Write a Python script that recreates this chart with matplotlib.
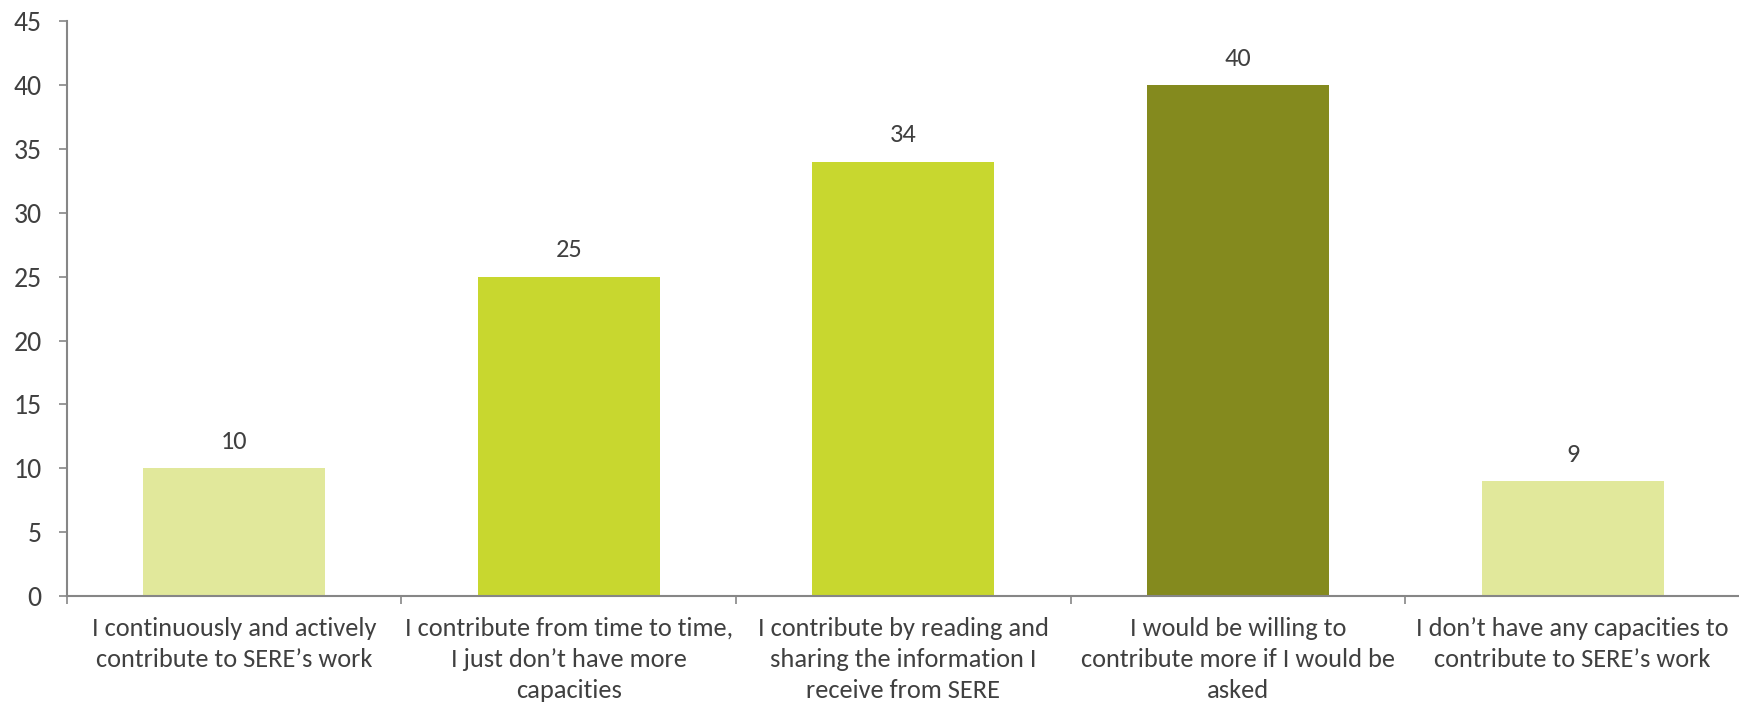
import matplotlib
matplotlib.use("Agg")
import matplotlib.pyplot as plt
from matplotlib.ticker import FixedLocator
from matplotlib import font_manager

categories = [
    "I continuously and actively\ncontribute to SERE\u2019s work",
    "I contribute from time to time,\nI just don\u2019t have more\ncapacities",
    "I contribute by reading and\nsharing the information I\nreceive from SERE",
    "I would be willing to\ncontribute more if I would be\nasked",
    "I don\u2019t have any capacities to\ncontribute to SERE\u2019s work",
]
values = [10, 25, 34, 40, 9]
colors = ["#E1E89B", "#C8D72F", "#C8D72F", "#848A1E", "#E1E89B"]
yticks = [0, 5, 10, 15, 20, 25, 30, 35, 40, 45]

available = {f.name for f in font_manager.fontManager.ttflist}
families = [f for f in ["Carlito", "Lato"] if f in available] + ["DejaVu Sans"]
plt.rcParams['font.family'] = families
FS = 18 if families[0] == "Lato" else 19

fig = plt.figure(figsize=(17.4, 7.07), dpi=100)
ax = fig.add_axes([0.0383, 0.157, 0.9617, 0.813])

x = list(range(len(values)))
ax.bar(x, values, width=0.544, color=colors, zorder=2)
for xi, v in zip(x, values):
    ax.annotate(str(v), (xi, v), xytext=(0, 11), textcoords="offset points",
                ha="center", va="bottom", fontsize=FS, color="#404040")

ax.set_xlim(-0.5, len(values) - 0.5)
ax.set_ylim(0, 45)
ax.set_yticks(yticks)
ax.set_yticklabels([str(t) for t in yticks], fontsize=FS + 1, color="#404040")

ax.set_xticks(x)
ax.set_xticklabels(categories, fontsize=FS, color="#404040", linespacing=1.42)
ax.xaxis.set_minor_locator(FixedLocator([i - 0.5 for i in range(len(values) + 1)]))
ax.tick_params(axis="x", which="major", length=0, pad=15)
ax.tick_params(axis="x", which="minor", length=6, color="#868686", width=1.2)
ax.tick_params(axis="y", which="major", length=6, color="#868686", width=1.2, pad=12)

for s in ["top", "right"]:
    ax.spines[s].set_visible(False)
for s in ["left", "bottom"]:
    ax.spines[s].set_color("#868686")
    ax.spines[s].set_linewidth(1.5)

fig.savefig("out.png", dpi=100)
